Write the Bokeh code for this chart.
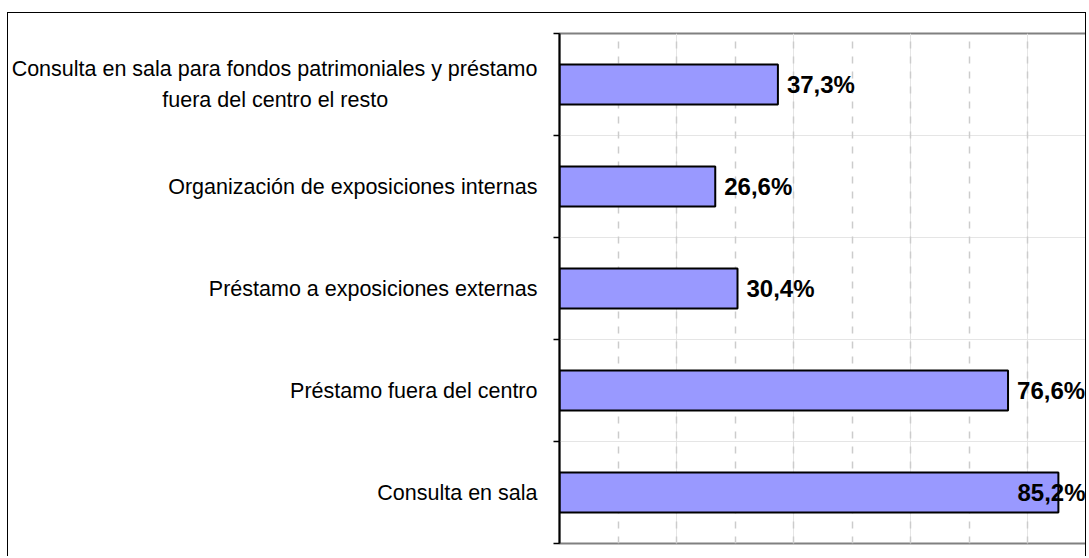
from bokeh.plotting import figure
from bokeh.models import (Range1d, LinearAxis, FixedTicker, Grid, ColumnDataSource)
from bokeh.core.properties import value
from bokeh.embed import file_html
from bokeh.resources import INLINE

# ---- data (bottom to top) ----
categories = [
    "Consulta en sala",
    "Préstamo fuera del centro",
    "Préstamo a exposiciones externas",
    "Organización de exposiciones internas",
    "Consulta en sala para fondos patrimoniales y préstamo\nfuera del centro el resto",
]
values = [85.2, 76.6, 30.4, 26.6, 37.3]
value_labels = ["85,2%", "76,6%", "30,4%", "26,6%", "37,3%"]
x_max = 90
grid_ticks = [10, 20, 30, 40, 50, 60, 70, 80]

FONT = "Liberation Sans"
n = len(categories)
slot_center = [i + 0.5 for i in range(n)]      # category slot centres on the value axis
slot_edges = list(range(n + 1))                 # category boundaries


def centre_lines(label):
    """Axis labels are right-justified; pad shorter lines with no-break spaces
    so that the lines of a wrapped label look centred (as in the original)."""
    lines = label.split("\n")
    if len(lines) == 1:
        return label
    longest = max(len(l) for l in lines)
    out = []
    for l in lines:
        pad = round((longest - len(l)) * 0.5 / 0.278 / 2)
        out.append(l + "\u00a0" * pad)
    return "\n".join(out)


p = figure(
    width=1079, height=544,
    x_range=Range1d(0, x_max),
    y_range=Range1d(0, n),
    x_axis_location=None, y_axis_location=None,
    output_backend="svg", toolbar_location=None,
    min_border_left=550, min_border_right=1, min_border_top=20, min_border_bottom=14,
    background_fill_color="white", border_fill_color="white",
    styles={"border-top": "1px solid #000", "border-left": "1px solid #000",
            "border-right": "1px solid #000", "margin": "12px 0 0 7px"},
)

p.outline_line_color = "#808080"
p.outline_line_width = 2

# vertical dashed grid
grid = Grid(dimension=0, ticker=FixedTicker(ticks=grid_ticks),
            grid_line_color="#cccccc", grid_line_dash="7 8", grid_line_width=1.5)
p.add_layout(grid)

# category axis: labels at slot centres, tick marks at slot boundaries (minor ticks)
cat_axis = LinearAxis(ticker=FixedTicker(ticks=slot_center, minor_ticks=slot_edges),
                      major_label_overrides={c: centre_lines(t) for c, t in zip(slot_center, categories)},
                      axis_line_color="black", axis_line_width=2,
                      major_tick_line_color=None, major_tick_in=0, major_tick_out=0,
                      minor_tick_line_color="black", minor_tick_line_width=1.5,
                      minor_tick_in=0, minor_tick_out=6,
                      major_label_standoff=16,
                      major_label_text_font=FONT, major_label_text_font_size="21.5px",
                      major_label_text_color="black", major_label_text_line_height=1.3)
p.add_layout(cat_axis, "left")

src = ColumnDataSource(dict(y=slot_center, val=values))
p.hbar(y="y", right="val", left=0, height=0.39, source=src,
       fill_color="#9999FF", line_color="black", line_width=2)

# data labels
fits = [v + 12 <= x_max for v in values]
lab_src = ColumnDataSource(dict(
    x=[v if f else x_max for v, f in zip(values, fits)],
    y=slot_center,
    text=value_labels,
    align=["left" if f else "right" for f in fits],
    xoff=[9 if f else -1 for f in fits],
))
p.text(x="x", y="y", text="text", source=lab_src, text_align="align", x_offset="xoff",
       text_baseline="middle", text_font=value(FONT), text_font_style="bold",
       text_font_size="24px", text_color="black")

open("out.html", "w").write(file_html(p, INLINE))
